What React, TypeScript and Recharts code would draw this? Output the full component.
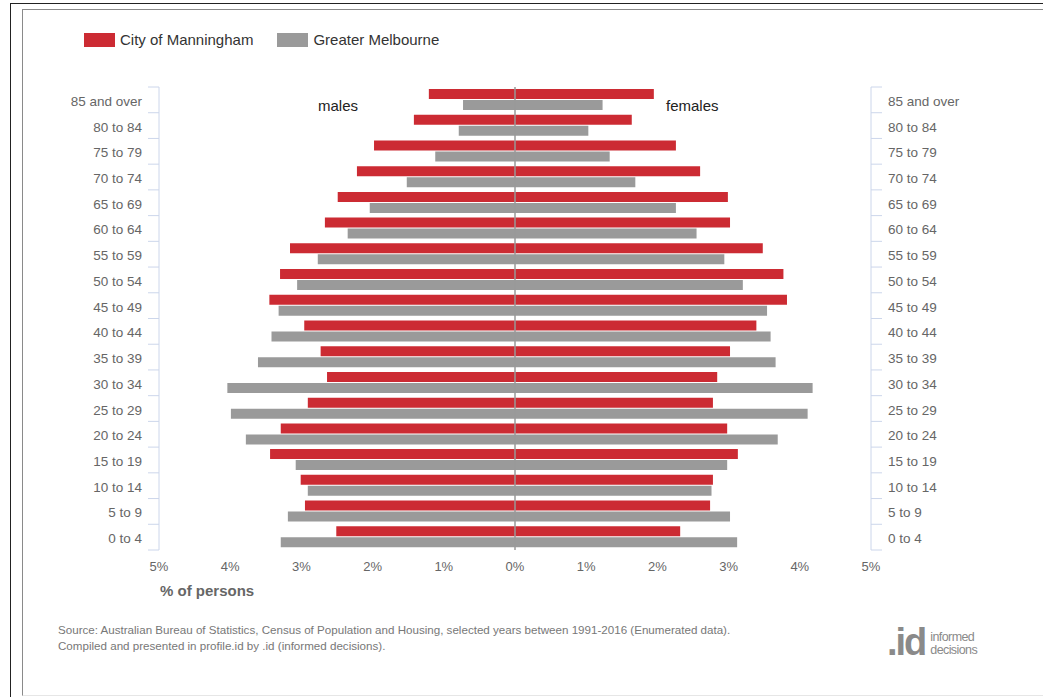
import React from 'react';
import { BarChart, Bar, XAxis, YAxis, ReferenceLine } from 'recharts';

// age groups, top to bottom
const ages = [
  '85 and over', '80 to 84', '75 to 79', '70 to 74', '65 to 69', '60 to 64',
  '55 to 59', '50 to 54', '45 to 49', '40 to 44', '35 to 39', '30 to 34',
  '25 to 29', '20 to 24', '15 to 19', '10 to 14', '5 to 9', '0 to 4',
];

// % of persons
const manninghamMales = [1.21, 1.42, 1.98, 2.22, 2.49, 2.67, 3.16, 3.30, 3.45, 2.96, 2.73, 2.64, 2.91, 3.29, 3.44, 3.01, 2.95, 2.51];
const manninghamFemales = [1.95, 1.64, 2.26, 2.60, 2.99, 3.02, 3.48, 3.77, 3.82, 3.39, 3.02, 2.84, 2.78, 2.98, 3.13, 2.78, 2.74, 2.32];
const melbourneMales = [0.73, 0.79, 1.12, 1.52, 2.04, 2.35, 2.77, 3.06, 3.32, 3.42, 3.61, 4.04, 3.99, 3.78, 3.08, 2.91, 3.19, 3.29];
const melbourneFemales = [1.23, 1.03, 1.33, 1.69, 2.26, 2.55, 2.94, 3.20, 3.54, 3.59, 3.66, 4.18, 4.11, 3.69, 2.98, 2.76, 3.02, 3.12];

const xTicks = [-5, -4, -3, -2, -1, 0, 1, 2, 3, 4, 5];

const RED = '#cc2b33';
const GREY = '#9a9a9a';
const AXIS = '#ccd6eb';
const FONT = '"Liberation Sans", Arial, sans-serif';

const CHART_W = 1043;
const CHART_H = 600;
const PLOT_TOP = 87;
const X_AXIS_H = 50;
const LEFT_W = 159;
const RIGHT_W = 172;
const BAND = (CHART_H - PLOT_TOP - X_AXIS_H) / ages.length;

const data = ages.map((age, i) => ({
  age,
  manM: -manninghamMales[i],
  manF: manninghamFemales[i],
  melM: -melbourneMales[i],
  melF: melbourneFemales[i],
}));

const AgeTick = ({ y, payload, index, side }: any) => {
  const axisX = side === 'left' ? LEFT_W : CHART_W - RIGHT_W;
  const dir = side === 'left' ? -1 : 1;
  const last = index === ages.length - 1;
  return (
    <g>
      <line x1={axisX} x2={axisX + dir * 11} y1={y - BAND / 2} y2={y - BAND / 2} stroke={AXIS} />
      {last && <line x1={axisX} x2={axisX + dir * 11} y1={y + BAND / 2} y2={y + BAND / 2} stroke={AXIS} />}
      <text
        x={axisX + dir * 17}
        y={y}
        dy={6}
        textAnchor={side === 'left' ? 'end' : 'start'}
        fill="#666"
        fontSize={13.5}
        fontFamily={FONT}
      >
        {payload.value}
      </text>
    </g>
  );
};

const LegendItem = ({ color, label }: { color: string; label: string }) => (
  <div style={{ display: 'flex', alignItems: 'center', marginRight: 24 }}>
    <div style={{ width: 31, height: 14, background: color, marginRight: 5 }} />
    <span style={{ fontSize: 15, color: '#333' }}>{label}</span>
  </div>
);

export default function App() {
  return (
    <div
      style={{
        position: 'absolute', left: 0, top: 0, width: 1043, height: 697,
        background: '#fff', overflow: 'hidden', fontFamily: FONT,
      }}
    >
      {/* frames */}
      <div style={{ position: 'absolute', left: 10, top: 3, width: 1200, height: 1000, border: '1px solid #222' }} />
      <div
        style={{
          position: 'absolute', left: 22, top: 9, width: 1200, height: 685,
          borderLeft: '1px solid #8a8a8a', borderTop: '1px solid #8a8a8a', borderBottom: '1px solid #e6e6e6',
        }}
      />

      {/* legend */}
      <div style={{ position: 'absolute', left: 84, top: 31, display: 'flex' }}>
        <LegendItem color={RED} label="City of Manningham" />
        <LegendItem color={GREY} label="Greater Melbourne" />
      </div>

      <div style={{ position: 'absolute', left: 0, top: 0 }}>
        <BarChart
          width={CHART_W}
          height={CHART_H}
          data={data}
          layout="vertical"
          stackOffset="sign"
          barSize={10}
          barGap={1}
          margin={{ top: PLOT_TOP, right: 0, bottom: 0, left: 0 }}
        >
          <XAxis
            type="number"
            domain={[-5, 5]}
            ticks={xTicks}
            tickFormatter={(v: number) => `${Math.abs(v)}%`}
            axisLine={false}
            tickLine={false}
            tickMargin={6}
            height={X_AXIS_H}
            tick={{ fill: '#666', fontSize: 13, fontFamily: FONT }}
          />
          <YAxis
            yAxisId="left"
            type="category"
            dataKey="age"
            width={LEFT_W}
            interval={0}
            axisLine={{ stroke: AXIS }}
            tickLine={false}
            tick={(p: any) => <AgeTick {...p} side="left" />}
          />
          <YAxis
            yAxisId="right"
            orientation="right"
            type="category"
            dataKey="age"
            width={RIGHT_W}
            interval={0}
            axisLine={{ stroke: AXIS }}
            tickLine={false}
            tick={(p: any) => <AgeTick {...p} side="right" />}
          />
          <Bar yAxisId="left" dataKey="manM" stackId="man" fill={RED} isAnimationActive={false} />
          <Bar yAxisId="left" dataKey="manF" stackId="man" fill={RED} isAnimationActive={false} />
          <Bar yAxisId="left" dataKey="melM" stackId="mel" fill={GREY} isAnimationActive={false} />
          <Bar yAxisId="left" dataKey="melF" stackId="mel" fill={GREY} isAnimationActive={false} />
          <ReferenceLine yAxisId="left" x={0} stroke="#999" strokeWidth={1.5} />
        </BarChart>
      </div>

      {/* side labels */}
      <div style={{ position: 'absolute', left: 318, top: 97, fontSize: 15, color: '#222' }}>males</div>
      <div style={{ position: 'absolute', left: 666, top: 97, fontSize: 15, color: '#222' }}>females</div>

      <div style={{ position: 'absolute', left: 160, top: 582, fontSize: 15, fontWeight: 'bold', color: '#666' }}>
        % of persons
      </div>

      {/* source */}
      <div style={{ position: 'absolute', left: 58, top: 622, fontSize: 11.6, lineHeight: '15.5px', color: '#777' }}>
        Source: Australian Bureau of Statistics, Census of Population and Housing, selected years between 1991-2016 (Enumerated data).
        <br />
        Compiled and presented in profile.id by .id (informed decisions).
      </div>

      {/* logo */}
      <div style={{ position: 'absolute', left: 887, top: 622, display: 'flex', alignItems: 'flex-end', color: '#8a8a8a' }}>
        <span style={{ fontSize: 38, fontWeight: 'bold', letterSpacing: -2, lineHeight: '40px' }}>.id</span>
        <span
          style={{
            fontSize: 12.5, lineHeight: '13px', marginLeft: 5, marginBottom: 5, letterSpacing: -0.6,
            fontFamily: '"Liberation Sans Narrow", "Arial Narrow", ' + FONT,
          }}
        >
          informed
          <br />
          decisions
        </span>
      </div>
    </div>
  );
}
